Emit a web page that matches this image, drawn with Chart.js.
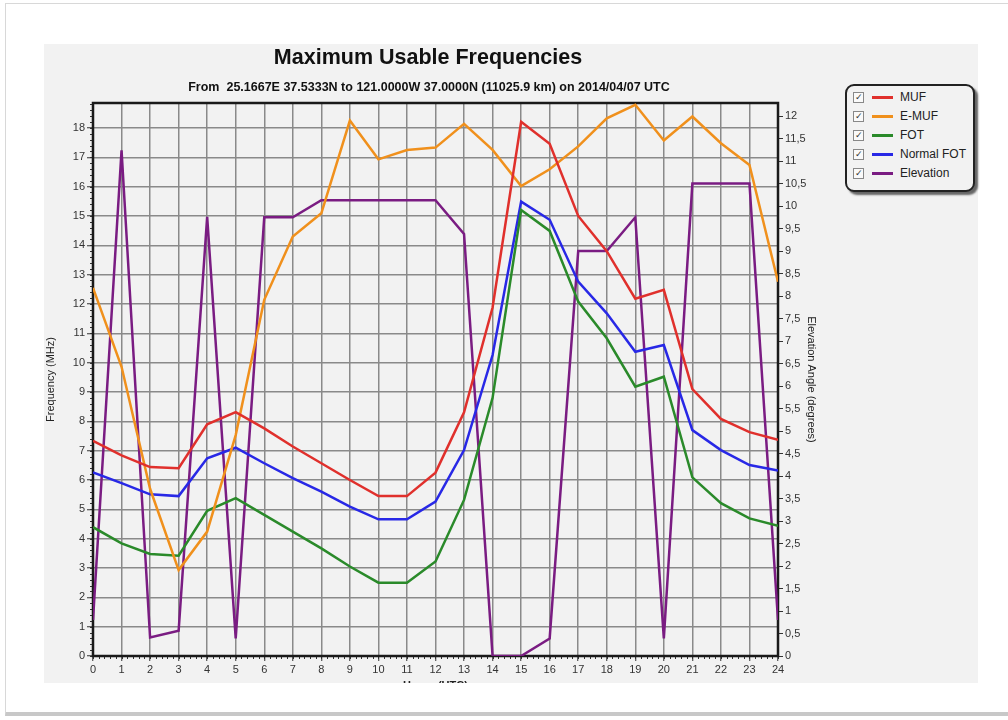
<!DOCTYPE html>
<html>
<head>
<meta charset="utf-8">
<script src="https://cdn.jsdelivr.net/npm/chart.js@4"></script>
<style>
    html, body { margin: 0; padding: 0; background: #fff; }
    body { width: 1008px; height: 720px; position: relative; overflow: hidden; font-family: "Liberation Sans", Arial, sans-serif; }
    .outer { position: absolute; left: 5px; top: 3px; width: 1020px; height: 708px; border: 1px solid #d8d8d8; border-bottom: 4px solid #c8c8c8; }
    .panel { position: absolute; left: 44px; top: 44px; width: 934px; height: 639px; background: #f2f2f2; overflow: hidden; }
    #chartWrap { position: absolute; left: 0; top: 0; width: 776px; height: 660px; }
    .legend { position: absolute; left: 845px; top: 84px; width: 126px; height: 104px; border: 2px solid #222; border-radius: 9px; background: #f2f2f2; box-shadow: 3px 3px 2px #666; }
    .legend .row { position: absolute; left: 0; height: 19px; width: 126px; font-size: 12px; color: #222; }
    .legend .box { position: absolute; left: 6px; top: 4px; width: 9px; height: 9px; border: 1px solid #888; background: #fafafa; font-size: 9px; line-height: 9px; text-align: center; color: #333; }
    .legend .swatch { position: absolute; left: 25px; top: 8px; width: 21px; height: 3px; }
    .legend .label { position: absolute; left: 53px; top: 2px; }
</style>
</head>
<body>
<div class="outer"></div>
<div class="panel">
    <div id="chartWrap"><canvas id="mufChart" width="776" height="660"></canvas></div>
</div>
<div class="legend" id="legend"></div>

<script>
// ===== DATA =====
const hours = [0, 1, 2, 3, 4, 5, 6, 7, 8, 9, 10, 11, 12, 13, 14, 15, 16, 17, 18, 19, 20, 21, 22, 23, 24];

const mufValues = [7.33, 6.84, 6.44, 6.40, 7.90, 8.31, 7.76, 7.14, 6.57, 6.00, 5.45, 5.45, 6.25, 8.31, 11.88, 18.21, 17.46, 15.00, 13.80, 12.18, 12.48, 9.10, 8.08, 7.63, 7.37];
const emufValues = [12.55, 9.86, 5.70, 2.93, 4.24, 7.53, 12.14, 14.30, 15.09, 18.25, 16.93, 17.25, 17.33, 18.14, 17.25, 16.02, 16.59, 17.37, 18.33, 18.79, 17.57, 18.39, 17.48, 16.74, 12.76];
const fotValues = [4.39, 3.84, 3.48, 3.42, 4.95, 5.38, 4.81, 4.24, 3.67, 3.05, 2.50, 2.50, 3.22, 5.32, 8.80, 15.20, 14.49, 12.08, 10.83, 9.18, 9.52, 6.09, 5.21, 4.69, 4.44];
const normalFotValues = [6.26, 5.89, 5.51, 5.45, 6.74, 7.10, 6.57, 6.06, 5.60, 5.09, 4.66, 4.66, 5.26, 7.02, 10.26, 15.49, 14.87, 12.76, 11.68, 10.37, 10.60, 7.70, 7.02, 6.51, 6.32];
const elevationValues = [0.80, 11.24, 0.41, 0.56, 9.76, 0.39, 9.75, 9.75, 10.13, 10.13, 10.13, 10.13, 10.13, 9.38, 0, 0, 0.39, 9.00, 9.00, 9.75, 0.39, 10.50, 10.50, 10.50, 0.80];

const SERIES = [
    { label: 'MUF', values: mufValues, color: '#e0302c', axis: 'yFreq' },
    { label: 'E-MUF', values: emufValues, color: '#f0901c', axis: 'yFreq' },
    { label: 'FOT', values: fotValues, color: '#2a8a2a', axis: 'yFreq' },
    { label: 'Normal FOT', values: normalFotValues, color: '#2828e6', axis: 'yFreq' },
    { label: 'Elevation', values: elevationValues, color: '#7a1c82', axis: 'yElev' }
];

const TITLE = 'Maximum Usable Frequencies';
const SUBTITLE = 'From  25.1667E 37.5333N to 121.0000W 37.0000N (11025.9 km) on 2014/04/07 UTC';

// ===== LEGEND (html) =====
function buildLegend() {
    const legend = document.getElementById('legend');
    SERIES.forEach((s, i) => {
        const row = document.createElement('div');
        row.className = 'row';
        row.style.top = (2 + i * 19) + 'px';
        row.innerHTML = `
            <div class="box">&#10003;</div>
            <div class="swatch" style="background:${s.color}"></div>
            <div class="label">${s.label}</div>
        `;
        legend.appendChild(row);
    });
}

// ===== PLUGINS =====
const titlePlugin = {
    id: 'titles',
    afterDraw(chart) {
        const { ctx } = chart;
        ctx.save();
        ctx.fillStyle = '#111';
        ctx.textAlign = 'center';
        ctx.textBaseline = 'middle';
        ctx.font = 'bold 21.5px "Liberation Sans", Arial, sans-serif';
        ctx.fillText(TITLE, 384, 14);
        ctx.font = 'bold 12.5px "Liberation Sans", Arial, sans-serif';
        ctx.fillText(SUBTITLE, 385, 44);
        ctx.restore();
    }
};

// frame + minor ticks
const framePlugin = {
    id: 'frame',
    beforeDatasetsDraw(chart) {
        const { ctx, chartArea: a, scales } = chart;
        ctx.save();
        ctx.strokeStyle = '#333';
        ctx.lineWidth = 1;
        // minor ticks on the frequency axis
        for (let v = 0; v <= 18.8; v += 0.2) {
            const y = Math.round(scales.yFreq.getPixelForValue(v)) + 0.5;
            ctx.beginPath();
            ctx.moveTo(a.left - 3, y);
            ctx.lineTo(a.left, y);
            ctx.stroke();
        }
        // minor ticks on hours axis
        for (let h = 0; h <= 24; h += 0.2) {
            const x = Math.round(scales.x.getPixelForValue(h)) + 0.5;
            ctx.beginPath();
            ctx.moveTo(x, a.bottom);
            ctx.lineTo(x, a.bottom + 3);
            ctx.stroke();
        }
        ctx.strokeStyle = '#1a1a1a';
        ctx.lineWidth = 2.5;
        ctx.strokeRect(a.left, a.top, a.right - a.left, a.bottom - a.top);
        ctx.restore();
    }
};

// ===== CHART =====
function renderChart() {
    const ctx = document.getElementById('mufChart');
    const tickFont = { family: '"Liberation Sans", Arial, sans-serif', size: 11 };

    new Chart(ctx.getContext('2d'), {
        type: 'line',
        data: {
            datasets: SERIES.map(s => ({
                label: s.label,
                data: hours.map((h, i) => ({ x: h, y: s.values[i] })),
                borderColor: s.color,
                backgroundColor: s.color,
                borderWidth: 2.5,
                pointRadius: 0,
                tension: 0,
                yAxisID: s.axis
            }))
        },
        options: {
            responsive: false,
            animation: false,
            layout: { padding: { top: 59, left: 0, right: 0, bottom: 11 } },
            plugins: {
                legend: { display: false },
                tooltip: { enabled: false }
            },
            scales: {
                x: {
                    type: 'linear',
                    min: 0,
                    max: 24,
                    afterFit: scale => { scale.height = 37; },
                    ticks: { stepSize: 1, color: '#333', font: tickFont, padding: 2, maxRotation: 0 },
                    grid: { color: '#8a8a8a', lineWidth: 1.5, tickLength: 5, tickColor: '#333', tickWidth: 1 },
                    border: { display: false },
                    title: { display: true, text: 'Hours (UTC)', color: '#222', font: { family: tickFont.family, size: 11, weight: 'bold' }, padding: { top: 2, bottom: 0 } }
                },
                yFreq: {
                    type: 'linear',
                    position: 'left',
                    min: 0,
                    max: 18.85,
                    afterFit: scale => { scale.width = 49; },
                    ticks: { stepSize: 1, includeBounds: false, color: '#333', font: tickFont, padding: 2 },
                    grid: { color: '#8a8a8a', lineWidth: 1.5, tickLength: 6, tickColor: '#333', tickWidth: 1 },
                    border: { display: false },
                    title: { display: true, text: 'Frequency (MHz)', color: '#222', font: { family: tickFont.family, size: 11 }, padding: 0 }
                },
                yElev: {
                    type: 'linear',
                    position: 'right',
                    min: 0,
                    max: 12.29,
                    afterFit: scale => { scale.width = 42; },
                    ticks: {
                        stepSize: 0.5,
                        includeBounds: false,
                        color: '#333',
                        font: tickFont,
                        padding: 2,
                        callback: v => String(v).replace('.', ',')
                    },
                    grid: { drawOnChartArea: false, tickLength: 5, tickColor: '#333', tickWidth: 1 },
                    border: { display: false },
                    title: { display: true, text: 'Elevation Angle (degrees)', color: '#222', font: { family: tickFont.family, size: 11 }, padding: 2 }
                }
            }
        },
        plugins: [titlePlugin, framePlugin]
    });
}

// ===== INITIALIZE =====
buildLegend();
renderChart();
</script>
</body>
</html>
